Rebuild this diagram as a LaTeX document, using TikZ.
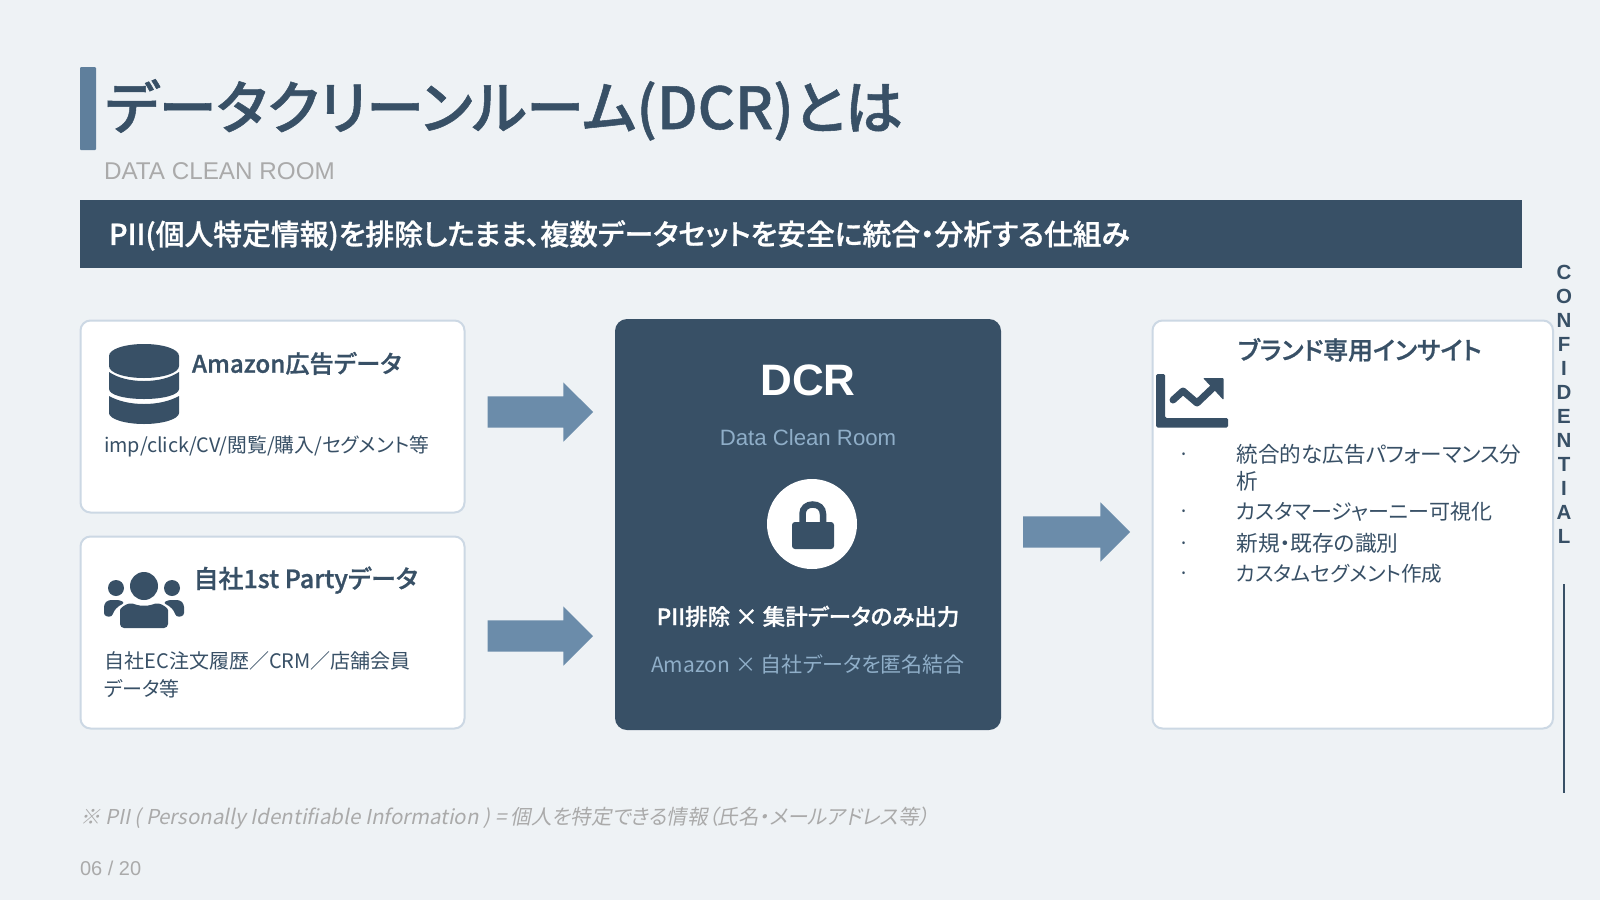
\documentclass[tikz,border=0pt]{standalone}
\usepackage{fontspec}
\setmainfont{Noto Sans CJK JP}[RawFeature={+palt}]
\newfontfamily\jpm{Noto Sans CJK JP Medium}[RawFeature={+palt},FakeBold=0.9]
\newfontfamily\lat{Liberation Sans}
\newfontfamily\jpit{Noto Sans CJK JP}[FakeSlant=0.2,RawFeature={+palt}]
\usetikzlibrary{shapes.arrows}
\definecolor{bg}{HTML}{EEF2F5}
\definecolor{dark}{HTML}{385066}
\definecolor{arrowc}{HTML}{6B8CAA}
\definecolor{accent}{HTML}{5F7F9C}
\definecolor{edge}{HTML}{CCD8E4}
\definecolor{greyt}{HTML}{AAAAAA}
\definecolor{soft}{HTML}{8FAEC8}
\tikzset{
  t/.style={inner sep=0pt,outer sep=0pt,anchor=west,text height=#1*0.88pt,text depth=#1*0.12pt,font=\fontsize{#1}{#1}\selectfont,text=dark},
  tc/.style={t=#1,anchor=center},
  card/.style={draw=edge,line width=2pt,fill=white,rounded corners=10pt},
  blockarrow/.style={single arrow,fill=arrowc,inner xsep=0pt,inner ysep=15.5pt,outer sep=0pt,
    single arrow head extend=14pt,single arrow head indent=0pt,anchor=tail},
  conf/.style={t=20.5,anchor=center,font=\fontsize{20.5}{20.5}\selectfont\lat\bfseries}
}
\begin{document}
\begin{tikzpicture}[x=1pt,y=-1pt]
\useasboundingbox (0,0) rectangle (1600,900);
\fill[bg] (0,0) rectangle (1600,900);
% header
\fill[accent,rounded corners=1pt] (80,67) rectangle (96,150);
\node[t=58,font=\fontsize{58}{58}\selectfont\jpm] (title) at (105,107) {データクリーンルーム(DCR)とは};
\node[t=24.25,text=greyt,font=\fontsize{24.25}{24.25}\selectfont\lat] (sub) at (104,170) {DATA CLEAN ROOM};
\fill[dark] (80,200) rectangle (1522,268);
\node[t=28.8,text=white,font=\fontsize{28.8}{28.8}\selectfont\jpm] (banner) at (109,234) {PII(個人特定情報)を排除したまま、複数データセットを安全に統合・分析する仕組み};
% cards
\draw[card] (80.5,320.5) rectangle (464.5,512.5);
\draw[card] (80.5,536.5) rectangle (464.5,728.5);
\fill[dark,rounded corners=12pt] (615,319) rectangle (1001,730);
\draw[card] (1152.5,320.5) rectangle (1553,728.5);
% arrows
\node[blockarrow,minimum height=105.5pt] (a1) at (487.5,412) {};
\node[blockarrow,minimum height=105.5pt] (a2) at (487.5,636) {};
\node[blockarrow,minimum height=107pt] (a3) at (1023,532) {};
% db icon
\fill[dark] (109,356) .. controls (109,349) and (125,344) .. (144,344) .. controls (163,344) and (179,349) .. (179,356) -- (179,366) .. controls (179,373) and (163,378) .. (144,378) .. controls (125,378) and (109,373) .. (109,366) -- cycle;
\fill[dark] (109,372) .. controls (118,378) and (130,381) .. (144,381) .. controls (158,381) and (170,378) .. (179,372) -- (179,389) .. controls (179,395) and (163,399) .. (144,399) .. controls (125,399) and (109,395) .. (109,389) -- cycle;
\fill[dark] (109,396) .. controls (118,401) and (130,404) .. (144,404) .. controls (158,404) and (170,401) .. (179,396) -- (179,413) .. controls (179,419) and (163,424) .. (144,424) .. controls (125,424) and (109,419) .. (109,413) -- cycle;
\node[t=24.2,font=\fontsize{24.2}{24.2}\selectfont\jpm] (h1) at (192,363.5) {Amazon広告データ};
\node[t=19.8] (d1) at (104,444.5) {imp/click/CV/閲覧/購入/セグメント等};
% people icon
\fill[dark] (144,586) circle (14);
\fill[dark] (116,588) circle (8);
\fill[dark] (172,588) circle (8);
\fill[dark,rounded corners=4pt] (120,628) -- (120,614) .. controls (120,608) and (126,604) .. (133,603) .. controls (139,606) and (149,606) .. (155,603) .. controls (162,604) and (168,608) .. (168,614) -- (168,628) -- cycle;
\fill[dark,rounded corners=3pt] (104,616) -- (104,604) -- (108,600) -- (120,600) -- (125,603) .. controls (118,606) and (114,610) .. (112,617) -- cycle;
\fill[dark,rounded corners=3pt] (184,616) -- (184,604) -- (180,600) -- (168,600) -- (163,603) .. controls (170,606) and (174,610) .. (176,617) -- cycle;
\node[t=25,font=\fontsize{25}{25}\selectfont\jpm] (h2) at (193.5,578.5) {自社1st Partyデータ};
\node[t=20] (d2) at (104.5,660.5) {自社EC注文履歴／CRM／店舗会員};
\node[t=20] (d3) at (104,688.5) {データ等};
% center
\node[tc=44,text=white,font=\fontsize{44}{44}\selectfont\lat\bfseries] (dcr) at (808,379) {DCR};
\node[tc=22.2,text=soft,font=\fontsize{22.2}{22.2}\selectfont\lat] (dcrs) at (808,437) {Data Clean Room};
\node[circle,fill=white,minimum size=90pt,inner sep=0pt,outer sep=0pt] (lock) at (812,524) {};
\draw[dark,line width=6.5pt] (802.5,524) -- (802.5,514) .. controls (802.5,508) and (807,504.5) .. (812.7,504.5) .. controls (818.5,504.5) and (823,508) .. (823,514) -- (823,524);
\fill[dark,rounded corners=3pt] (792,522) rectangle (834,549);
\node[tc=22.5,text=white,font=\fontsize{22.5}{22.5}\selectfont\jpm] (p1) at (808,616.5) {PII排除 × 集計データのみ出力};
\node[tc=21,text=soft] (p2) at (808,665) {Amazon × 自社データを匿名結合};
% right
\node[t=24.9,font=\fontsize{24.9}{24.9}\selectfont\jpm] (h3) at (1238,350) {ブランド専用インサイト};
\fill[dark,rounded corners=1.5pt] (1156,374) -- (1165,374) -- (1165,418) -- (1228,418) -- (1228,427.5) -- (1156,427.5) -- cycle;
\draw[dark,line width=7pt,line join=round,line cap=round] (1173,400) -- (1183,391) -- (1197,403) -- (1217,384);
\fill[dark,rounded corners=1pt] (1203,378) -- (1223.5,378) -- (1223.5,400) -- cycle;
\foreach \n/\y in {1/454,2/511,3/543,4/573}{\node[tc=20] (b\n) at (1184.5,\y) {·};}
\node[t=21.6] (l1) at (1236.5,454.5) {統合的な広告パフォーマンス分};
\node[t=21.6] (l1b) at (1236.5,481) {析};
\node[t=21] (l2) at (1236,512) {カスタマージャーニー可視化};
\node[t=21.7] (l3) at (1236.5,543.5) {新規・既存の識別};
\node[t=20.6] (l4) at (1236,574) {カスタムセグメント作成};
% confidential
\foreach \c [count=\i from 0] in {C,O,N,F,I,D,E,N,T,I,A,L}{
  \pgfmathsetmacro{\yy}{272+\i*23.96}
  \node[conf] (c\i) at (1564,\yy) {\c};
}
\coordinate (ls) at (1564,584);
\coordinate (le) at (1564,793);
\draw[dark,line width=1.6pt] (ls) -- (le);
% footer
\node[t=20.5,text=greyt,font=\fontsize{20.5}{20.5}\selectfont\jpit] (fn) at (80,817) {※ PII ( Personally Identifiable Information ) = 個人を特定できる情報（氏名・メールアドレス等）};
\node[t=20,text=greyt,font=\fontsize{20}{20}\selectfont\lat] (pg) at (80,868) {06 / 20};
\end{tikzpicture}
\end{document}
